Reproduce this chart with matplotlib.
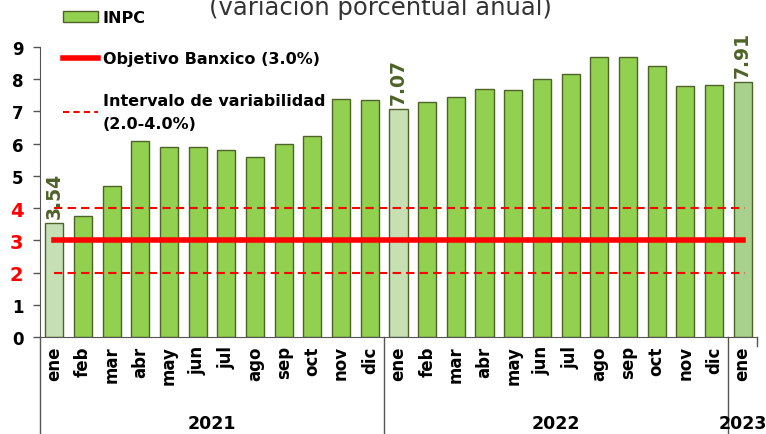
import numpy as np
import matplotlib.pyplot as plt
from matplotlib.patches import Patch
from matplotlib.lines import Line2D

# Datos INPC (variación porcentual anual)
meses = ["ene", "feb", "mar", "abr", "may", "jun", "jul", "ago", "sep", "oct", "nov", "dic",
         "ene", "feb", "mar", "abr", "may", "jun", "jul", "ago", "sep", "oct", "nov", "dic",
         "ene"]
inpc = [3.54, 3.76, 4.67, 6.08, 5.89, 5.88, 5.81, 5.59, 6.00, 6.24, 7.37, 7.36,
        7.07, 7.28, 7.45, 7.68, 7.65, 7.99, 8.15, 8.70, 8.70, 8.41, 7.80, 7.82,
        7.91]
anios = ["2021", "2022", "2023"]
meses_por_anio = [12, 12, 1]
destacados = [0, 12, 24]  # barras con etiqueta
objetivo = 3.0
intervalo = [2.0, 4.0]

verde = "#92D050"
borde = "#4F6228"
texto_verde = "#4F6228"
rojo = "#FF0000"

fig = plt.figure(figsize=(7.66, 4.35), dpi=100)
ax = fig.add_axes([0.0522, 0.223, 0.936, 0.667])

x = np.arange(len(inpc))
colores = [verde] * len(inpc)
colores[0] = "#C6E0B4"
colores[12] = "#C6E0B4"
colores[24] = "#A9D18E"
ax.bar(x, inpc, width=0.63, color=colores, edgecolor=borde, linewidth=1.0, zorder=2)

# etiquetas de valor
for i in destacados:
    ax.text(x[i], inpc[i] + 0.15, f"{inpc[i]:.2f}", rotation=90, ha="center", va="bottom",
            color=texto_verde, fontsize=13.5, fontweight="bold", zorder=4)

# objetivo y bandas
ax.plot([x[0], x[-1]], [objetivo, objetivo], color=rojo, lw=4, zorder=3)
for v in intervalo:
    ax.plot([x[0], x[-1] + 0.1], [v, v], color=rojo, lw=1.5, ls=(0, (4, 2.5)), zorder=3)

ax.set_xlim(-0.5, len(inpc) - 0.5)
ax.set_ylim(0, 9)
ax.set_yticks(range(10))
ax.set_yticklabels([str(i) for i in range(10)], fontsize=12, fontweight="bold")
for lbl in ax.get_yticklabels():
    if lbl.get_text() in ("2", "3", "4"):
        lbl.set_color(rojo)
        lbl.set_fontsize(14)
ax.tick_params(axis="y", length=5, width=1, color="#555555", pad=7)
ax.set_xticks(x)
ax.set_xticklabels(meses, rotation=90, fontsize=12, fontweight="bold")
ax.tick_params(axis="x", length=0, pad=6)

for s in ["top", "right"]:
    ax.spines[s].set_visible(False)
ax.spines["left"].set_color("#555555")
ax.spines["bottom"].set_color("#555555")

# separadores de años y etiquetas
trans = ax.get_xaxis_transform()
inicio = -0.5
for anio, n in zip(anios, meses_por_anio):
    fin = inicio + n
    ax.plot([inicio, inicio], [0, -0.34], transform=trans, color="#555555", lw=1, clip_on=False)
    ax.text((inicio + fin) / 2, -0.297, anio, transform=trans, ha="center", va="center",
            fontsize=12.5, fontweight="bold")
    inicio = fin
ax.plot([inicio, inicio], [0, -0.03], transform=trans, color="#555555", lw=1, clip_on=False)

# leyenda
handles = [Patch(facecolor=verde, edgecolor=borde),
           Line2D([], [], color=rojo, lw=4),
           Line2D([], [], color=rojo, lw=1.5, ls=(0, (3, 2)))]
labels = ["INPC", "Objetivo Banxico (3.0%)", "Intervalo de variabilidad\n(2.0-4.0%)"]
leg = fig.legend(handles, labels, loc="upper left", bbox_to_anchor=(0.063, 1.008),
                 frameon=False, handlelength=2.2, handletextpad=0.3, labelspacing=1.65,
                 prop={"size": 11.5, "weight": "bold"})
leg.get_texts()[2].set_linespacing(1.7)

fig.text(0.497, 0.966, "(variación porcentual anual)", ha="center", va="baseline",
         fontsize=17.5, color="#333333")

fig.savefig("out.png", dpi=100)
